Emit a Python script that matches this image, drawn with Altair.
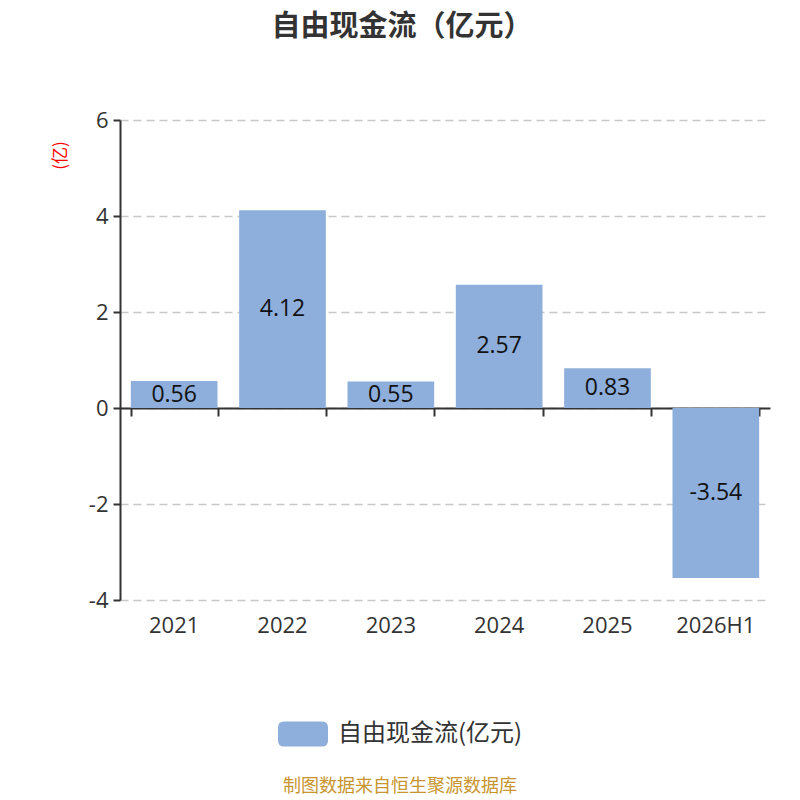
import altair as alt
import pandas as pd

years = ["2021", "2022", "2023", "2024", "2025", "2026H1"]
values = [0.56, 4.12, 0.55, 2.57, 0.83, -3.54]
series_name = "自由现金流(亿元)"
y_ticks = [-4, -2, 0, 2, 4, 6]

df = pd.DataFrame({"year": years, "value": values})
df["half"] = df["value"] / 2
df["label"] = [f"{v:.2f}" for v in values]
df["series"] = series_name

CJK = "Noto Sans CJK SC"
NUM = "Open Sans"
BAR = "#8eaedb"

rr = ("M-0.76,-0.5 L0.76,-0.5 Q1,-0.5 1,-0.26 L1,0.26 Q1,0.5 0.76,0.5 "
      "L-0.76,0.5 Q-1,0.5 -1,0.26 L-1,-0.26 Q-1,-0.5 -0.76,-0.5 Z")

xscale = alt.Scale(domain=years, paddingInner=0.2, paddingOuter=0.1)
yscale = alt.Scale(domain=[-4, 6], nice=False)

bars = alt.Chart(df).mark_bar(color=BAR).encode(
    x=alt.X("year:N", sort=years, scale=xscale,
            axis=alt.Axis(title=None, orient="bottom", offset=-192, labels=False,
                          domain=True, domainColor="#333", domainWidth=2,
                          ticks=True, tickBand="extent", tickSize=8,
                          tickColor="#333", tickWidth=2, grid=False)),
    y=alt.Y("value:Q", scale=yscale,
            axis=alt.Axis(values=y_ticks, labelExpr="datum.value + ''",
                          title="(亿)", titleColor="red",
                          titleFontSize=17, titleFontWeight="normal", titleFont=CJK,
                          titleAngle=-90, titleX=-60, titleY=35,
                          titleAlign="center", titleBaseline="middle",
                          labelFontSize=22, labelColor="#333", labelFont=NUM,
                          labelPadding=5, domainColor="#333", domainWidth=2,
                          tickColor="#333", tickSize=7, tickWidth=2,
                          grid=True, gridDash=[8, 5], gridColor="#c8c8c8",
                          gridWidth=1.5)),
    color=alt.Color("series:N", scale=alt.Scale(range=[BAR]),
                    legend=alt.Legend(title=None, orient="none", legendX=158,
                                      legendY=589, symbolType=rr, symbolSize=2500,
                                      symbolStrokeWidth=0, symbolOpacity=1,
                                      labelFontSize=24, labelFont=CJK, labelLimit=0,
                                      labelColor="#333", labelOffset=10)),
)

texts = alt.Chart(df).mark_text(fontSize=23, font=NUM, color="#111").encode(
    x=alt.X("year:N", sort=years, scale=xscale,
            axis=alt.Axis(title=None, orient="bottom", domain=False, ticks=False,
                          labelFontSize=22, labelColor="#333", labelFont=NUM,
                          labelPadding=15, labelAngle=0, grid=False)),
    y=alt.Y("half:Q", scale=yscale),
    text="label:N",
)

source = alt.Chart(pd.DataFrame({"t": ["制图数据来自恒生聚源数据库"]})).mark_text(
    fontSize=18, font=CJK, color="#c8952e"
).encode(x=alt.value(280), y=alt.value(667), text="t:N")

chart = alt.layer(bars, texts, source).resolve_axis(x="independent").properties(
    width=650, height=480,
    padding={"left": 112, "top": 112, "right": 22, "bottom": 200},
    autosize=alt.AutoSizeParams(type="none"),
    title=alt.Title("自由现金流（亿元）", fontSize=29, font=CJK, fontWeight="bold",
                    color="#333", anchor="middle", dx=-43, offset=67),
).configure_view(stroke=None)

chart.save("out.html", embed_options={"renderer": "svg", "actions": False})
